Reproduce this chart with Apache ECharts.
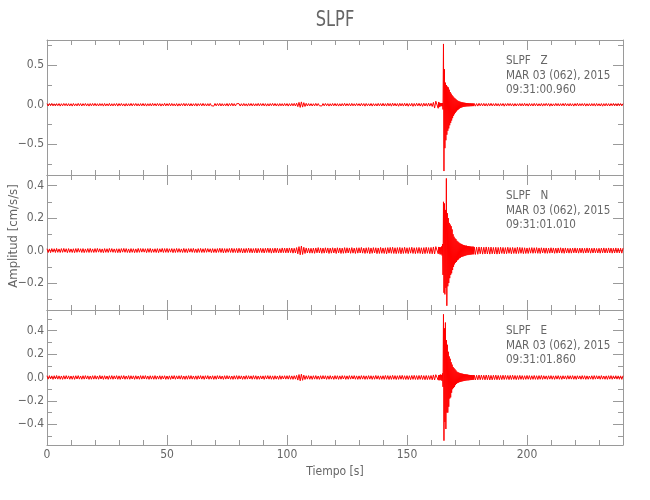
<!DOCTYPE html>
<html><head><meta charset="utf-8">
<script src="https://cdn.jsdelivr.net/npm/echarts@6/dist/echarts.min.js"></script>
<style>html,body{margin:0;padding:0;background:#fff}#c{width:650px;height:500px}</style>
</head><body><div id="c"></div>
<script>
const chartTitle = 'SLPF';
const station = 'SLPF';
const channels = ['Z', 'N', 'E'];
const dateLabel = 'MAR 03 (062), 2015';
const startTimes = ['09:31:00.960', '09:31:01.010', '09:31:01.860'];
const xName = 'Tiempo [s]';
const yName = 'Amplitud [cm/s/s]';
const xRange = [0, 240];
const xMajor = [0, 50, 100, 150, 200];
const xMinor = [10, 20, 30, 40, 60, 70, 80, 90, 110, 120, 130, 140, 160, 170, 180, 190, 210, 220, 230, 240];
const yRanges = [[-0.89, 0.82], [-0.366, 0.465], [-0.577, 0.577]];
const yMajor = [[-0.5, 0, 0.5], [-0.2, 0, 0.2, 0.4], [-0.4, -0.2, 0, 0.2, 0.4]];
const yMinor = [[-0.75, -0.25, 0.25, 0.75], [-0.3, -0.1, 0.1, 0.3], [-0.5, -0.3, -0.1, 0.1, 0.3, 0.5]];

// sample timing of the traces (seconds): A 0..162 every 0.5 s, B 163..177.8 every 0.2 s, C 178..240 every 0.5 s
const segStart = [0, 163, 178];
const segStep = [0.5, 0.2, 0.5];

// amplitudes in units of 0.001 cm/s/s
const zA = [
14,-16,15,-13,17,-15,12,-16,14,-13,15,-17,13,-14,16,-12,15,-16,14,-15,
13,-17,16,-14,12,-15,17,-13,15,-16,14,-12,16,-15,13,-17,15,-14,16,-13,
17,-14,13,-16,15,-12,14,-17,16,-15,12,-14,17,-16,13,-15,14,-13,16,-17,
15,-13,16,-14,12,-17,15,-16,13,-14,17,-15,14,-12,16,-15,13,-16,15,-14,
16,-15,14,-17,13,-14,15,-16,17,-12,14,-15,16,-13,15,-17,12,-14,18,-15,
14,-13,17,-15,16,-14,12,-16,15,-17,13,-15,14,-12,17,-16,15,-13,14,-16,
15,-16,13,-14,16,-17,14,-12,15,-15,17,-14,13,-16,14,-15,16,-13,12,-17,
16,-14,15,-13,17,-16,14,-15,12,-14,16,-17,15,-13,18,-15,14,-16,13,-12,
14,-16,13,-15,16,-14,12,-17,15,-13,16,-15,14,-16,13,-14,17,-15,15,-13,
16,-15,14,-17,13,-16,15,-12,17,-14,16,-15,13,-17,15,-14,14,-16,16,-13,
15,-17,14,-15,16,-14,17,-16,20,-24,30,-34,36,-30,26,-22,18,-16,15,-14,
14,-16,13,-15,17,-14,15,-13,12,-16,15,-14,16,-13,14,-17,13,-15,16,-14,
16,-15,14,-17,13,-16,15,-14,18,-15,14,-13,15,-16,17,-14,13,-15,16,-12,
14,-16,17,-13,15,-18,16,-14,13,-15,16,-17,14,-15,13,-16,17,-14,15,-16,
18,-16,14,-17,19,-15,16,-18,20,-14,17,-16,15,-19,18,-15,16,-17,19,-16,
17,-19,15,-16,18,-20,16,-17,19,-15,18,-17,16,-20,19,-16,17,-18,20,-17,
18,-22,30,-42,45];
const zB = [
-45,35,-30,25,-22,20,-18,20,-18,22,
-60,770,-840,450,-550,280,-450,250,-380,230,
-330,220,-300,190,-260,160,-230,140,-200,120,
-170,105,-140,90,-120,80,-100,70,-85,60,
-70,50,-60,45,-50,40,-42,36,-36,32,
-32,30,-28,27,-26,25,-24,23,-22,22,
-21,20,-20,19,-20,18,-19,18,-18,17,
-18,17,-17,16,-17];
const zC = [
16,-18,15,-17,18,-14,16,-15,17,-16,15,-17,16,-14,18,-15,14,-16,17,-15,
14,-17,15,-13,16,-18,14,-15,17,-13,16,-15,14,-17,15,-16,13,-14,16,-15,
15,-16,18,-14,13,-17,16,-15,14,-16,17,-14,15,-16,13,-15,16,-17,14,-13,
17,-13,15,-18,14,-16,12,-15,17,-14,15,-16,14,-13,16,-15,17,-14,13,-16,
16,-15,13,-17,15,-14,18,-16,14,-13,15,-14,16,-17,13,-15,14,-16,15,-14,
15,-17,16,-14,13,-16,15,-18,14,-15,16,-15,14,-16,15,-13,17,-15,14,-16,
16,-14,15,-15,14];

const nA = [
11,-12,10,-13,12,-10,11,-12,13,-11,10,-12,12,-11,13,-10,11,-13,12,-11,
10,-12,11,-13,12,-11,13,-10,11,-12,12,-13,10,-11,12,-12,13,-11,10,-12,
12,-11,13,-10,11,-12,10,-13,12,-11,11,-12,13,-10,12,-11,10,-12,11,-13,
11,-13,12,-10,13,-11,12,-12,10,-13,12,-11,11,-13,10,-12,13,-11,12,-10,
12,-10,11,-13,12,-11,13,-12,10,-11,11,-12,12,-13,11,-10,13,-12,12,-11,
13,-12,11,-10,12,-13,11,-12,13,-11,12,-11,10,-12,13,-12,11,-13,12,-10,
12,-11,13,-12,10,-13,12,-11,13,-12,11,-12,13,-11,12,-10,11,-13,12,-12,
11,-13,12,-11,14,-12,13,-14,12,-13,12,-11,13,-12,14,-13,12,-12,13,-14,
14,-12,13,-15,12,-14,13,-12,15,-13,13,-14,12,-13,14,-15,13,-12,14,-13,
13,-15,14,-12,15,-13,14,-16,13,-14,15,-13,14,-15,12,-14,16,-13,15,-14,
15,-14,16,-13,15,-16,14,-15,18,-20,24,-26,28,-24,20,-18,16,-15,14,-16,
14,-16,15,-17,16,-14,18,-15,16,-17,15,-16,17,-14,16,-18,15,-16,17,-15,
15,-18,17,-15,16,-18,15,-17,18,-16,17,-15,16,-17,18,-16,15,-18,17,-16,
17,-15,19,-16,15,-18,17,-16,18,-19,16,-17,18,-15,17,-19,16,-18,19,-17,
16,-18,17,-20,18,-16,19,-17,20,-18,17,-19,18,-17,19,-20,17,-18,20,-17,
17,-19,18,-16,20,-18,17,-19,18,-17,19,-18,17,-20,18,-19,20,-17,18,-19,
19,-20,22,-21,24];
const nB = [
-20,22,-18,21,-24,20,-22,25,-30,40,
-150,300,-260,290,-270,250,-230,444,-340,230,
-220,200,-200,170,-170,160,-150,150,-140,130,
-120,100,-100,85,-85,75,-75,70,-70,60,
-60,55,-55,50,-48,45,-45,42,-40,40,
-38,36,-36,34,-34,32,-32,30,-30,30,
-28,28,-28,27,-26,26,-26,25,-25,24,
-24,24,-23,24,-23];
const nC = [
22,-24,21,-23,22,-20,21,-22,20,-21,22,-21,20,-22,21,-20,19,-21,20,-22,
19,-21,20,-18,19,-20,18,-19,20,-17,18,-20,19,-18,17,-19,20,-18,19,-17,
18,-19,17,-18,16,-18,17,-16,18,-17,17,-16,18,-17,16,-18,17,-15,16,-17,
16,-17,15,-16,17,-15,16,-17,15,-16,16,-15,17,-16,15,-17,16,-15,14,-16,
14,-16,15,-14,16,-15,14,-16,15,-14,15,-16,14,-15,16,-14,15,-16,14,-15,
15,-14,13,-15,14,-16,15,-14,16,-15,14,-15,16,-14,15,-16,14,-15,16,-14,
14,-15,14,-16,15];

const eA = [
15,-14,16,-13,14,-16,15,-13,17,-14,14,-15,13,-16,15,-14,16,-13,14,-15,
13,-15,14,-16,15,-13,16,-14,13,-15,15,-14,16,-13,14,-16,13,-15,15,-14,
16,-14,13,-15,17,-13,14,-16,15,-14,13,-16,15,-14,16,-15,14,-13,16,-15,
14,-16,15,-13,16,-15,13,-14,16,-15,15,-13,14,-16,15,-14,13,-15,16,-14,
15,-13,16,-14,13,-16,15,-14,14,-15,16,-15,13,-14,15,-16,14,-13,15,-16,
13,-15,14,-16,15,-13,16,-15,14,-13,15,-14,16,-15,13,-16,14,-15,16,-14,
16,-14,13,-15,14,-16,15,-13,16,-14,14,-16,15,-13,16,-15,13,-14,15,-16,
14,-15,16,-13,15,-14,13,-16,15,-14,16,-13,14,-15,13,-16,15,-14,16,-15,
15,-13,14,-16,13,-15,16,-14,15,-13,14,-15,16,-14,15,-16,13,-15,14,-13,
14,-16,15,-13,16,-14,15,-15,14,-16,15,-14,13,-16,16,-15,14,-13,15,-14,
15,-14,16,-15,14,-16,15,-14,18,-22,25,-28,28,-24,20,-17,15,-14,16,-15,
14,-16,15,-14,16,-15,13,-16,15,-14,16,-13,15,-16,14,-15,16,-14,13,-16,
16,-14,15,-16,14,-15,16,-13,15,-16,14,-15,16,-14,15,-13,16,-15,14,-16,
14,-15,16,-14,15,-16,14,-15,16,-14,15,-16,14,-15,17,-14,15,-16,14,-15,
15,-16,17,-15,16,-17,15,-16,18,-15,16,-17,15,-16,17,-15,18,-16,15,-17,
16,-17,15,-18,17,-16,18,-17,16,-18,17,-16,18,-17,16,-19,17,-18,16,-17,
17,-20,22,-21,24];
const eB = [
-22,20,-24,22,-20,25,-24,22,-28,35,
-80,540,-540,420,-380,470,-440,320,-300,280,
-300,220,-250,180,-180,160,-170,130,-130,110,
-100,90,-90,80,-80,70,-65,60,-55,50,
-48,45,-44,42,-40,38,-38,36,-35,34,
-33,32,-31,30,-30,28,-28,27,-26,26,
-25,25,-24,23,-24,22,-22,21,-22,21,
-21,20,-20,21,-19];
const eC = [
20,-21,19,-20,21,-19,20,-18,19,-20,21,-19,20,-21,18,-20,19,-18,20,-19,
18,-19,17,-18,19,-17,18,-16,17,-18,18,-17,19,-16,17,-18,16,-17,18,-16,
16,-17,15,-16,17,-15,16,-17,15,-16,17,-16,15,-17,16,-15,17,-16,15,-14,
14,-16,15,-14,16,-15,14,-16,15,-14,16,-15,14,-16,15,-13,14,-15,16,-14,
15,-14,16,-15,14,-16,15,-13,14,-15,16,-14,15,-16,14,-15,13,-14,15,-16,
16,-14,15,-13,14,-15,16,-14,13,-15,14,-16,15,-14,16,-15,14,-13,15,-14,
14,-15,14,-16,15];

const traces = [[zA, zB, zC], [nA, nB, nC], [eA, eB, eC]];

const FONT = '"DejaVu Sans Condensed","Liberation Sans Narrow","DejaVu Sans",sans-serif';
const AX = '#9a9a9a';
const TX = '#666666';
const gridTops = [40, 175, 310];
const gridH = 135;
const gridLeft = 47, gridRight = 27;

function buildData(segs) {
  const out = [];
  segs.forEach((arr, s) => {
    arr.forEach((v, i) => {
      out.push([+(segStart[s] + segStep[s] * i).toFixed(3), v / 1000]);
    });
  });
  return out;
}
const fmtY = v => (v < 0 ? '\u2212' : '') + Math.abs(v).toFixed(1);

const grids = [], xAxes = [], yAxes = [], series = [], graphics = [];
for (let g = 0; g < 3; g++) {
  grids.push({left: gridLeft, right: gridRight, top: gridTops[g], height: gridH, containLabel: false});
  const last = g === 2;
  const xa = (pos, major) => ({
    type: 'value', gridIndex: g, position: pos, min: xRange[0], max: xRange[1],
    axisLine: {show: major, onZero: false, lineStyle: {color: AX, width: 1}},
    splitLine: {show: false},
    axisTick: {show: true, inside: true, length: major ? 10 : 5, customValues: major ? xMajor : xMinor, lineStyle: {color: AX, width: 1}},
    axisLabel: {show: major && last && pos === 'bottom', customValues: xMajor, color: TX, fontFamily: FONT, fontSize: 12, margin: 4},
    name: (major && last && pos === 'bottom') ? xName : '',
    nameLocation: 'middle', nameGap: 21,
    nameTextStyle: {color: TX, fontFamily: FONT, fontSize: 12}
  });
  xAxes.push(xa('bottom', true), xa('bottom', false), xa('top', true), xa('top', false));
  const ya = (pos, major) => ({
    type: 'value', gridIndex: g, position: pos, min: yRanges[g][0], max: yRanges[g][1],
    axisLine: {show: major, onZero: false, lineStyle: {color: AX, width: 1}},
    splitLine: {show: false},
    axisTick: {show: true, inside: true, length: major ? 10 : 5, customValues: major ? yMajor[g] : yMinor[g], lineStyle: {color: AX, width: 1}},
    axisLabel: {show: major && pos === 'left', customValues: yMajor[g], formatter: fmtY, color: TX, fontFamily: FONT, fontSize: 12, margin: 3}
  });
  yAxes.push(ya('left', true), ya('left', false), ya('right', true), ya('right', false));
  series.push({
    type: 'line', xAxisIndex: g * 4, yAxisIndex: g * 4,
    data: buildData(traces[g]), showSymbol: false, symbol: 'none', sampling: null,
    lineStyle: {color: '#ff0000', width: 1}, animation: false, clip: true, silent: true
  });
  const lines = [station + '   ' + channels[g], dateLabel, startTimes[g]];
  lines.forEach((t, i) => {
    graphics.push({type: 'text', x: 506, y: gridTops[g] + 21 + i * 14.3, scaleX: 0.89, silent: true,
      style: {text: t, fill: TX, font: '13px ' + FONT, verticalAlign: 'middle', align: 'left'}});
  });
}
graphics.push({type: 'text', x: 335, y: 20, scaleX: 0.82, silent: true,
  style: {text: chartTitle, fill: TX, font: '22px ' + FONT, align: 'center', verticalAlign: 'middle'}});
graphics.push({type: 'text', x: 14, y: 236, rotation: Math.PI / 2, silent: true,
  style: {text: yName, fill: TX, font: '13px ' + FONT, align: 'center', verticalAlign: 'middle'}});

const chart = echarts.init(document.getElementById('c'), null, {renderer: 'canvas'});
chart.setOption({
  backgroundColor: '#ffffff',
  animation: false,
  grid: grids, xAxis: xAxes, yAxis: yAxes, series: series, graphic: graphics
});
</script></body></html>
